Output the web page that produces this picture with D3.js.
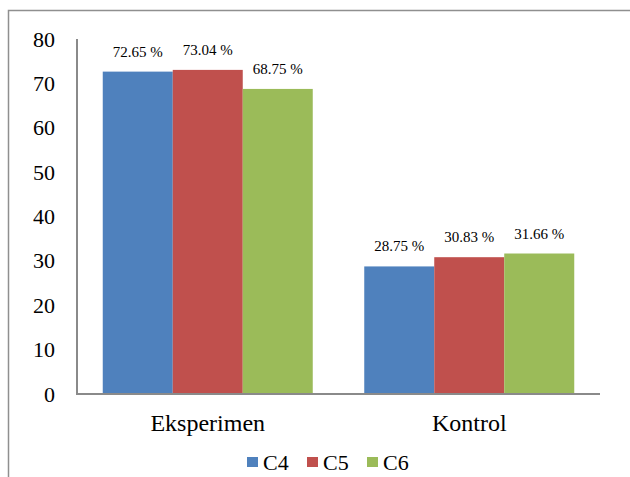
<!DOCTYPE html>
<html><head><meta charset="utf-8"><script src="https://cdn.jsdelivr.net/npm/d3@7"></script></head>
<body style="margin:0">
<svg id="chart" width="630" height="477"></svg>
<script>
const categories = ["Eksperimen", "Kontrol"];
const seriesNames = ["C4", "C5", "C6"];
const C4 = [72.65, 28.75];
const C5 = [73.04, 30.83];
const C6 = [68.75, 31.66];
const yTicks = [0, 10, 20, 30, 40, 50, 60, 70, 80];
const colors = ["#4F81BD", "#C0504D", "#9BBB59"];

const FONT = "'Liberation Serif'";
const seriesValues = [C4, C5, C6];
const svg = d3.select("#chart");

function serif(sel, size) {
  sel.attr("font-family", "Liberation Serif")
     .style("font-family", FONT)
     .style("font-size", size + "px")
     .attr("fill", "#000");
}

// outer border (left and top)
svg.append("path")
  .attr("d", "M8.5,477 L8.5,10.5 L630,10.5")
  .attr("fill", "none")
  .attr("stroke", "#8f8f8f")
  .attr("stroke-width", 1.5);

const x0 = d3.scaleBand().domain(categories).range([77, 600]).padding(0);
const groupPad = (x0.bandwidth() - 210) / 2;
const x1 = d3.scaleBand().domain(seriesNames).range([groupPad, x0.bandwidth() - groupPad]).padding(0);
const y = d3.scaleLinear().domain([0, 80]).range([394, 39]);

// y tick labels
const gy = svg.append("g").attr("transform", "translate(77,0)");
gy.call(d3.axisLeft(y).tickValues(yTicks).tickSize(0).tickPadding(22).tickFormat(d3.format("d")));
gy.attr("font-family", null).attr("font-size", null);
gy.select(".domain").remove();
serif(gy.selectAll("text"), 22);

// bars
const data = [];
categories.forEach((c, ci) => {
  seriesNames.forEach((s, si) => {
    data.push({cat: c, ser: s, si: si, value: seriesValues[si][ci]});
  });
});

svg.append("g").selectAll("rect").data(data).join("rect")
  .attr("x", d => x0(d.cat) + x1(d.ser))
  .attr("y", d => y(d.value))
  .attr("width", x1.bandwidth())
  .attr("height", d => y(0) - y(d.value))
  .attr("fill", d => colors[d.si]);

// value labels
const vl = svg.append("g").selectAll("text").data(data).join("text")
  .attr("x", d => x0(d.cat) + x1(d.ser) + x1.bandwidth() / 2)
  .attr("y", d => y(d.value) - 15)
  .attr("text-anchor", "middle")
  .text(d => d.value.toFixed(2) + " %");
serif(vl, 15);

// axes lines
svg.append("line")
  .attr("x1", 77).attr("x2", 77).attr("y1", y(80)).attr("y2", y(0))
  .attr("stroke", "#8a8a8a").attr("stroke-width", 2);

const gx = svg.append("g").attr("transform", "translate(0," + y(0) + ")");
gx.call(d3.axisBottom(x0).tickSize(0).tickPadding(20));
gx.attr("font-family", null).attr("font-size", null);
gx.select(".domain").attr("stroke", "#8a8a8a").attr("stroke-width", 2).attr("d", "M76,0H600");
serif(gx.selectAll("text"), 24);

// legend
const legend = svg.append("g");
seriesNames.forEach((s, i) => {
  const lx = 247 + i * 60;
  legend.append("rect").attr("x", lx).attr("y", 457).attr("width", 11).attr("height", 10).attr("fill", colors[i]);
  serif(legend.append("text").attr("x", lx + 16).attr("y", 469.5).text(s), 22);
});
</script>
</body></html>
